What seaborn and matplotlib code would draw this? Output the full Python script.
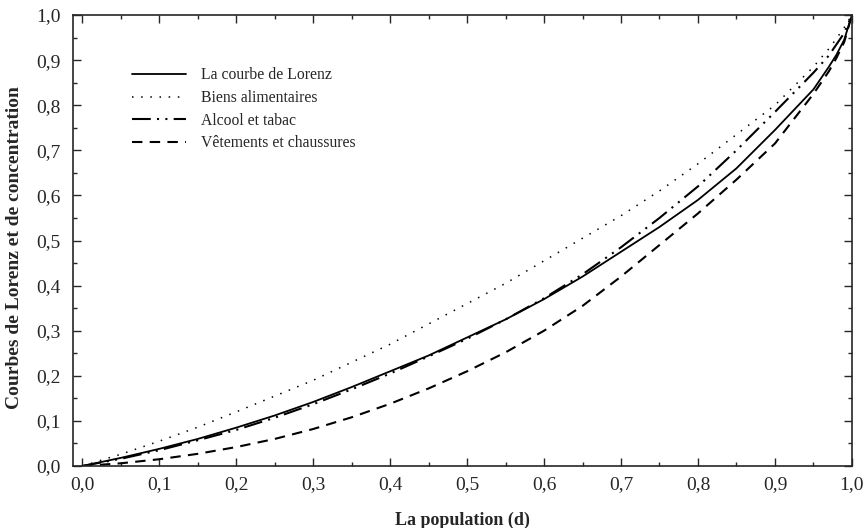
import pandas as pd
import matplotlib
matplotlib.use("Agg")
import matplotlib.pyplot as plt
from matplotlib.ticker import MultipleLocator, FuncFormatter
import seaborn as sns

# population share (d)
pop = [0.0, 0.05, 0.1, 0.15, 0.2, 0.25, 0.3, 0.35, 0.4, 0.45, 0.5,
       0.55, 0.6, 0.65, 0.7, 0.75, 0.8, 0.85, 0.9, 0.95, 0.97, 0.98, 0.99, 1.0]

lorenz = [0.0, 0.018, 0.038, 0.06, 0.085, 0.112, 0.142, 0.175, 0.21, 0.245, 0.285,
          0.325, 0.37, 0.42, 0.475, 0.53, 0.59, 0.66, 0.745, 0.835, 0.885, 0.912, 0.945, 1.0]
biens = [0.0, 0.026, 0.055, 0.086, 0.12, 0.155, 0.19, 0.23, 0.27, 0.315, 0.36,
         0.405, 0.455, 0.505, 0.555, 0.61, 0.67, 0.735, 0.80, 0.885, 0.925, 0.948, 0.972, 1.0]
alcool = [0.0, 0.016, 0.035, 0.057, 0.08, 0.107, 0.137, 0.17, 0.205, 0.243, 0.282,
          0.325, 0.372, 0.425, 0.485, 0.55, 0.62, 0.70, 0.785, 0.872, 0.91, 0.935, 0.96, 1.0]
vetements = [0.0, 0.006, 0.015, 0.027, 0.042, 0.06, 0.082, 0.108, 0.138, 0.172, 0.21,
             0.252, 0.30, 0.355, 0.42, 0.49, 0.56, 0.635, 0.715, 0.825, 0.875, 0.905, 0.94, 1.0]

labels = ["La courbe de Lorenz", "Biens alimentaires",
          "Alcool et tabac", "Vêtements et chaussures"]

sns.set_style("ticks")
plt.rcParams['font.family'] = ['Liberation Serif', 'DejaVu Serif']

fig, ax = plt.subplots(figsize=(8.64, 5.28), dpi=100)
fig.subplots_adjust(left=0.0845, right=0.986, bottom=0.1174, top=0.9716)

styles = [
    dict(linestyle='-', linewidth=1.3),
    dict(linestyle=(0, (1, 5)), linewidth=1.1),
    dict(linestyle=(0, (9, 3, 1, 3, 1, 3)), linewidth=1.5),
    dict(linestyle=(0, (5, 3.5)), linewidth=1.5),
]

for vals, lab, st in zip([lorenz, biens, alcool, vetements], labels, styles):
    df = pd.DataFrame({'d': pop, 'v': vals})
    sns.lineplot(data=df, x='d', y='v', ax=ax, color='black', label=lab, **st)

ax.set_xlim(-0.012, 1.0)
ax.set_ylim(0, 1.0)

comma = FuncFormatter(lambda v, p: f"{v:.1f}".replace('.', ','))
ax.xaxis.set_major_locator(MultipleLocator(0.1))
ax.xaxis.set_minor_locator(MultipleLocator(0.05))
ax.yaxis.set_major_locator(MultipleLocator(0.1))
ax.yaxis.set_minor_locator(MultipleLocator(0.05))
ax.xaxis.set_major_formatter(comma)
ax.yaxis.set_major_formatter(comma)

ax.tick_params(which='both', direction='in', top=True, right=True, width=1)
ax.tick_params(which='major', length=6, labelsize=14)
ax.tick_params(axis='x', which='major', pad=7)
ax.tick_params(axis='y', which='major', pad=9)
ax.tick_params(which='minor', length=3)
for s in ax.spines.values():
    s.set_linewidth(1.2)

ax.set_xlabel("La population (d)", fontsize=13, fontweight='bold', labelpad=14)
ax.set_ylabel("Courbes de Lorenz et de concentration", fontsize=14,
              fontweight='bold', labelpad=8)
ax.yaxis.set_label_coords(-0.064, 0.485)

ax.legend(loc='upper left', bbox_to_anchor=(0.058, 0.915), frameon=False,
          fontsize=11.3, handlelength=3.4, handletextpad=1.0, labelspacing=0.42)

fig.savefig("out.png", dpi=100)
